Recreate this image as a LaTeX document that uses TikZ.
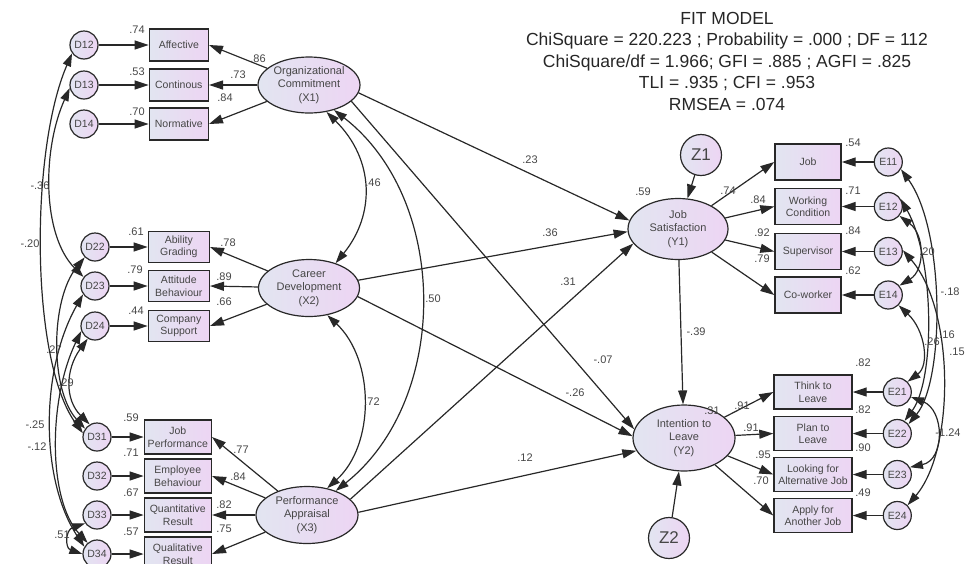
\documentclass[tikz,border=0pt]{standalone}
\usepackage{fontspec}
\setmainfont{Liberation Sans}
\usetikzlibrary{arrows.meta,positioning,shapes.geometric}
\definecolor{semL}{RGB}{226,229,241}
\definecolor{semR}{RGB}{237,213,243}
\definecolor{semline}{RGB}{40,40,40}
\definecolor{semtext}{RGB}{70,70,70}
\tikzset{
    obsbox/.style={draw=semline, line width=1.4pt, left color=semL, right color=semR,
        align=center, text=semtext, font=\fontsize{10.5}{12.5}\selectfont, inner sep=0pt},
    latent/.style={ellipse, draw=semline, line width=1.2pt, left color=semL, right color=semR,
        align=center, text=semtext, font=\fontsize{11}{13.3}\selectfont, inner sep=0pt},
    errcirc/.style={circle, draw=semline, line width=1.2pt, left color=semL, right color=semR,
        text=semtext, font=\fontsize{10.5}{12}\selectfont, inner sep=0pt, minimum size=28pt},
    disturb/.style={errcirc, minimum size=41pt, font=\fontsize{17}{20}\selectfont},
    coef/.style={text=semtext, font=\fontsize{11}{13}\selectfont, inner sep=0pt},
    fittext/.style={align=center, text=black!85, font=\fontsize{17.5}{21.5}\selectfont, inner sep=0pt},
    semarrow/.style={-{Triangle[length=14pt,width=9pt]}, line width=1.2pt, draw=semline},
    covarrow/.style={{Triangle[length=13pt,width=8.5pt]}-{Triangle[length=13pt,width=8.5pt]},
        line width=1.2pt, draw=semline}
}

\begin{document}
\begin{tikzpicture}[x=1pt, y=1pt]
\useasboundingbox (0,0) rectangle (965,-563);

\node[fittext] (fit) at (727,-61) {FIT MODEL\\ChiSquare = 220.223 ; Probability = .000 ; DF = 112\\ChiSquare/df = 1.966; GFI = .885 ; AGFI = .825\\TLI = .935 ; CFI = .953\\RMSEA = .074};

\node[errcirc] (D12) at (84,-45) {D12};
\node[errcirc] (D13) at (84,-85) {D13};
\node[errcirc] (D14) at (84,-124) {D14};
\node[obsbox, minimum width=59pt, minimum height=32pt, right=50pt of D12] (aff) {Affective};
\node[obsbox, minimum width=59pt, minimum height=32pt, right=50pt of D13] (cont) {Continous};
\node[obsbox, minimum width=59pt, minimum height=32pt, right=50pt of D14] (norm) {Normative};
\node[latent, minimum width=102pt, minimum height=56pt] (X1) at (309,-85) {Organizational\\Commitment\\(X1)};

\node[errcirc] (D22) at (95,-247) {D22};
\node[errcirc] (D23) at (95,-286) {D23};
\node[errcirc] (D24) at (95,-326) {D24};
\node[obsbox, minimum width=61pt, minimum height=31pt, right=38pt of D22] (abil) {Ability\\Grading};
\node[obsbox, minimum width=61pt, minimum height=31pt, right=38pt of D23] (atti) {Attitude\\Behaviour};
\node[obsbox, minimum width=61pt, minimum height=31pt, right=38pt of D24] (comp) {Company\\Support};
\node[latent, minimum width=101pt, minimum height=57pt] (X2) at (309,-288) {Career\\Development\\(X2)};

\node[errcirc] (D31) at (97,-437) {D31};
\node[errcirc] (D32) at (97,-476) {D32};
\node[errcirc] (D33) at (97,-515) {D33};
\node[errcirc] (D34) at (97,-554) {D34};
\node[obsbox, minimum width=67pt, minimum height=34pt, right=32pt of D31] (jobp) {Job\\Performance};
\node[obsbox, minimum width=67pt, minimum height=34pt, right=32pt of D32] (empb) {Employee\\Behaviour};
\node[obsbox, minimum width=67pt, minimum height=34pt, right=32pt of D33] (quan) {Quantitative\\Result};
\node[obsbox, minimum width=67pt, minimum height=34pt, right=32pt of D34] (qual) {Qualitative\\Result};
\node[latent, minimum width=102pt, minimum height=57pt] (X3) at (307,-515) {Performance\\Appraisal\\(X3)};

\node[latent, minimum width=100pt, minimum height=61pt] (Y1) at (678,-229) {Job\\Satisfaction\\(Y1)};
\node[disturb] (Z1) at (701,-155) {Z1};
\node[obsbox, minimum width=66pt, minimum height=36pt] (job) at (808,-162) {Job};
\node[obsbox, minimum width=66pt, minimum height=36pt] (work) at (808,-206.5) {Working\\Condition};
\node[obsbox, minimum width=66pt, minimum height=36pt] (supe) at (808,-251.5) {Supervisor};
\node[obsbox, minimum width=66pt, minimum height=36pt] (cowo) at (808,-295) {Co-worker};
\node[errcirc, right=32pt of job] (E11) {E11};
\node[errcirc, right=32pt of work] (E12) {E12};
\node[errcirc, right=32pt of supe] (E13) {E13};
\node[errcirc, right=32pt of cowo] (E14) {E14};

\node[latent, minimum width=102pt, minimum height=66pt] (Y2) at (684,-438) {Intention to\\Leave\\(Y2)};
\node[disturb] (Z2) at (669,-538) {Z2};
\node[obsbox, minimum width=78pt, minimum height=34pt] (thin) at (813,-392) {Think to\\Leave};
\node[obsbox, minimum width=78pt, minimum height=34pt] (plan) at (813,-433.5) {Plan to\\Leave};
\node[obsbox, minimum width=78pt, minimum height=34pt] (look) at (813,-474.5) {Looking for\\Alternative Job};
\node[obsbox, minimum width=78pt, minimum height=34pt] (appl) at (813,-515.5) {Apply for\\Another Job};
\node[errcirc, right=30pt of thin] (E21) {E21};
\node[errcirc, right=30pt of plan] (E22) {E22};
\node[errcirc, right=30pt of look] (E23) {E23};
\node[errcirc, right=30pt of appl] (E24) {E24};

\draw[semarrow] (D12) -- (aff);
\draw[semarrow] (D13) -- (cont);
\draw[semarrow] (D14) -- (norm);
\draw[semarrow] (X1) -- (aff.east);
\draw[semarrow] (X1) -- (cont.east);
\draw[semarrow] (X1) -- (norm.east);
\draw[semarrow] (D22) -- (abil);
\draw[semarrow] (D23) -- (atti);
\draw[semarrow] (D24) -- (comp);
\draw[semarrow] (X2) -- (abil.east);
\draw[semarrow] (X2) -- (atti.east);
\draw[semarrow] (X2) -- (comp.east);
\draw[semarrow] (D31) -- (jobp);
\draw[semarrow] (D32) -- (empb);
\draw[semarrow] (D33) -- (quan);
\draw[semarrow] (D34) -- (qual);
\draw[semarrow] (X3) -- (jobp.east);
\draw[semarrow] (X3) -- (empb.east);
\draw[semarrow] (X3) -- (quan.east);
\draw[semarrow] (X3) -- (qual.east);

\draw[semarrow] (Z1) -- (Y1);
\draw[semarrow] (Y1) -- (job.west);
\draw[semarrow] (Y1) -- (work.west);
\draw[semarrow] (Y1) -- (supe.west);
\draw[semarrow] (Y1) -- (cowo.west);
\draw[semarrow] (E11) -- (job);
\draw[semarrow] (E12) -- (work);
\draw[semarrow] (E13) -- (supe);
\draw[semarrow] (E14) -- (cowo);
\draw[semarrow] (Z2) -- (Y2);
\draw[semarrow] (Y2) -- (thin.west);
\draw[semarrow] (Y2) -- (plan.west);
\draw[semarrow] (Y2) -- (look.west);
\draw[semarrow] (Y2) -- (appl.west);
\draw[semarrow] (E21) -- (thin);
\draw[semarrow] (E22) -- (plan);
\draw[semarrow] (E23) -- (look);
\draw[semarrow] (E24) -- (appl);

\draw[semarrow] (X1.-9) -- (Y1.170);
\draw[semarrow] (X1.-21) -- (Y2.170);
\draw[semarrow] (X2.9) -- (Y1.183);
\draw[semarrow] (X2.-10) -- (Y2.178);
\draw[semarrow] (X3.20) -- (Y1.198);
\draw[semarrow] (X3.3) -- (Y2.195);
\draw[semarrow] (Y1) -- (Y2);

\draw[covarrow] (X1.-57) .. controls (375,-160) and (375,-215) .. (X2.43);
\draw[covarrow] (X1.-45) .. controls (450,-200) and (450,-400) .. (X3.40);
\draw[covarrow] (X2.-56) .. controls (375,-360) and (375,-445) .. (X3.53);

\draw[covarrow] (D13.192) .. controls (42,-150) and (42,-235) .. (D23.142);
\draw[covarrow] (D12.215) .. controls (30,-150) and (30,-360) .. (D31.165);
\draw[covarrow] (D22.225) .. controls (50,-300) and (50,-390) .. (D31.145);
\draw[covarrow] (D24.240) .. controls (65,-370) and (65,-400) .. (D31.120);
\draw[covarrow] (D23.215) .. controls (40,-370) and (40,-480) .. (D34.150);
\draw[covarrow] (D24.200) .. controls (48,-400) and (48,-500) .. (D34.130);
\draw[covarrow] (D33.215) .. controls (65,-530) and (65,-548) .. (D34.180);

\draw[covarrow] (E11.-30) .. controls (945,-230) and (945,-380) .. (E22.40);
\draw[covarrow] (E12.30) .. controls (935,-260) and (935,-380) .. (E22.60);
\draw[covarrow] (E13.5) .. controls (955,-310) and (955,-450) .. (E24.45);
\draw[covarrow] (E12.-40) .. controls (925,-235) and (925,-270) .. (E14.40);
\draw[covarrow] (E14.-45) .. controls (925,-330) and (930,-365) .. (E21.45);
\draw[covarrow] (E21.-20) .. controls (945,-410) and (945,-460) .. (E23.30);

\node[coef] (r2aff) at (137,-30) {.74};
\node[coef] (r2cont) at (137,-72) {.53};
\node[coef] (r2norm) at (137,-112) {.70};
\node[coef] (ldaff) at (258,-59) {.86};
\node[coef] (ldcont) at (238,-75) {.73};
\node[coef] (ldnorm) at (225,-98) {.84};
\node[coef] (r2abil) at (136,-232) {.61};
\node[coef] (r2atti) at (135,-270) {.79};
\node[coef] (r2comp) at (136,-311) {.44};
\node[coef] (ldabil) at (228,-243) {.78};
\node[coef] (ldatti) at (224,-277) {.89};
\node[coef] (ldcomp) at (224,-302) {.66};
\node[coef] (r2jobp) at (131,-418) {.59};
\node[coef] (r2empb) at (131,-453) {.71};
\node[coef] (r2quan) at (131,-493) {.67};
\node[coef] (r2qual) at (131,-532) {.57};
\node[coef] (ldjobp) at (241,-450) {.77};
\node[coef] (ldempb) at (238,-477) {.84};
\node[coef] (ldquan) at (224,-505) {.82};
\node[coef] (ldqual) at (224,-529) {.75};
\node[coef] (cvA) at (40,-186) {-.36};
\node[coef] (cvB) at (30,-244) {-.20};
\node[coef] (cvC) at (54,-350) {.27};
\node[coef] (cvD) at (66,-383) {.29};
\node[coef] (cvE) at (35,-425) {-.25};
\node[coef] (cvF) at (37,-447) {-.12};
\node[coef] (cvG) at (62,-535) {.51};
\node[coef] (rX12) at (373,-183) {.46};
\node[coef] (rX13) at (433,-299) {.50};
\node[coef] (rX23) at (372,-402) {.72};
\node[coef] (bX1Y1) at (530,-160) {.23};
\node[coef] (bX2Y1) at (550,-233) {.36};
\node[coef] (bX3Y1) at (568,-282) {.31};
\node[coef] (bX1Y2) at (603,-360) {-.07};
\node[coef] (bX2Y2) at (575,-393) {-.26};
\node[coef] (bX3Y2) at (525,-458) {.12};
\node[coef] (bY1Y2) at (696,-332) {-.39};
\node[coef] (r2Y1) at (643,-192) {.59};
\node[coef] (r2Y2) at (712,-411) {.31};
\node[coef] (ldjob) at (728,-191) {.74};
\node[coef] (ldwork) at (758,-200) {.84};
\node[coef] (ldsupe) at (762,-233) {.92};
\node[coef] (ldcowo) at (762,-259) {.79};
\node[coef] (ldthin) at (742,-406) {.91};
\node[coef] (ldplan) at (751,-428) {.91};
\node[coef] (ldlook) at (763,-455) {.95};
\node[coef] (ldappl) at (761,-481) {.70};
\node[coef] (r2job) at (853,-143) {.54};
\node[coef] (r2work) at (853,-191) {.71};
\node[coef] (r2supe) at (853,-231) {.84};
\node[coef] (r2cowo) at (853,-271) {.62};
\node[coef] (r2thin) at (863,-363) {.82};
\node[coef] (r2plan) at (863,-410) {.82};
\node[coef] (r2look) at (863,-448) {.90};
\node[coef] (r2appl) at (863,-493) {.49};
\node[coef] (cvH) at (950,-292) {-.18};
\node[coef] (cvI) at (927,-252) {.20};
\node[coef] (cvJ) at (947,-335) {.16};
\node[coef] (cvK) at (932,-342) {.26};
\node[coef] (cvL) at (957,-352) {.15};
\node[coef] (cvM) at (948,-433) {-1.24};
\end{tikzpicture}
\end{document}
